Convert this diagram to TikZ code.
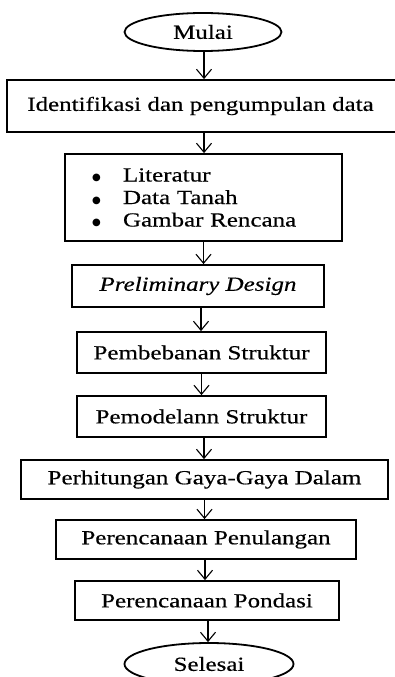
\documentclass[tikz,border=0pt]{standalone}
\usepackage{fontspec}
\setmainfont{Liberation Serif}[FakeStretch=1.25,FakeBold=0.4]
\newfontfamily\symfont{DejaVu Sans}
\usetikzlibrary{shapes.geometric,arrows.meta}
\newcommand{\blt}{\makebox[30pt][l]{\hspace{-1pt}\raisebox{1pt}{\symfont\fontsize{10}{10}\selectfont ●}}}
\begin{document}
\begin{tikzpicture}[x=1pt,y=-1pt,
  box/.style={draw, line width=1.8pt, rectangle, inner sep=0pt, font=\fontsize{20}{22.5}\selectfont},
  term/.style={draw, line width=1.8pt, ellipse, inner sep=0pt, font=\fontsize{20}{22.5}\selectfont},
  arr/.style={line width=1.1pt, -{Straight Barb[length=9pt,width=15pt,line width=1.1pt]}}]
\useasboundingbox (0,0) rectangle (395,677);

\node[term, minimum width=157pt, minimum height=38pt] (mulai) at (203,32) {Mulai};
\node[box, minimum width=393pt, minimum height=52pt] (ident) at (203.5,106) {\hspace*{-6pt}Identifikasi dan pengumpulan data};
\node[box, minimum width=277pt, minimum height=87pt, text width=221pt, inner xsep=28pt, align=left] (lit) at (203.5,197.5)
  {\blt Literatur\\\blt Data Tanah\\\blt Gambar Rencana};
\node[box, minimum width=252pt, minimum height=42pt] (prelim) at (198,286) {\itshape Preliminary Design};
\node[box, minimum width=249pt, minimum height=41pt] (pemb) at (201.5,352.5) {Pembebanan Struktur};
\node[box, minimum width=249pt, minimum height=41pt] (pemod) at (201.5,416.5) {Pemodelann Struktur};
\node[box, minimum width=367pt, minimum height=39pt] (perh) at (204.5,479.5) {Perhitungan Gaya-Gaya Dalam};
\node[box, minimum width=300pt, minimum height=39pt] (penul) at (206,539.5) {Perencanaan Penulangan};
\node[box, minimum width=264pt, minimum height=39pt] (pond) at (207,600.5) {Perencanaan Pondasi};
\node[term, minimum width=169pt, minimum height=42pt] (selesai) at (209,664) {Selesai};

\draw[arr] ([xshift=1pt]mulai.south) -- ([xshift=1pt]mulai.south |- ident.north);
\draw[arr] ([xshift=0.5pt]ident.south) -- ([xshift=0.5pt]ident.south |- lit.north);
\draw[arr] (lit.south) -- (lit.south |- prelim.north);
\draw[arr] ([xshift=3pt]prelim.south) -- ([xshift=3pt]prelim.south |- pemb.north);
\draw[arr] (pemb.south) -- (pemb.south |- pemod.north);
\draw[arr] ([xshift=2.5pt]pemod.south) -- ([xshift=2.5pt]pemod.south |- perh.north);
\draw[arr] (perh.south) -- (perh.south |- penul.north);
\draw[arr] ([xshift=-1pt]penul.south) -- ([xshift=-1pt]penul.south |- pond.north);
\draw[arr] ([xshift=1pt]pond.south) -- ([xshift=1pt]pond.south |- selesai.north);
\end{tikzpicture}
\end{document}
